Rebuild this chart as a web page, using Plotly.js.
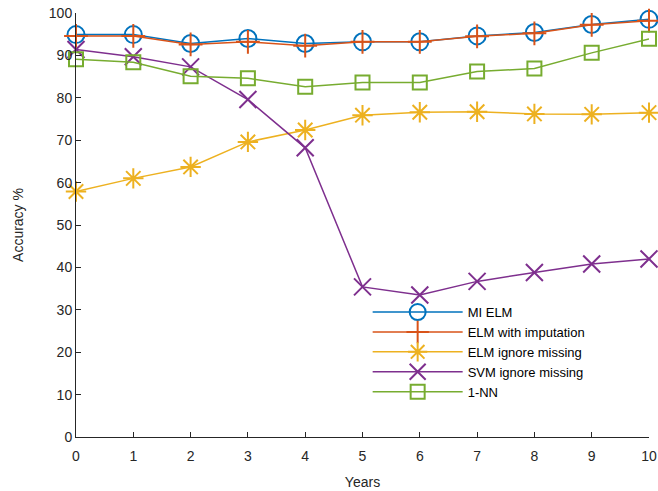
<!DOCTYPE html>
<html>
<head>
<meta charset="utf-8">
<script src="https://cdn.plot.ly/plotly-3.0.1.min.js"></script>
<style>html,body{margin:0;padding:0;background:#fff;}#chart{width:658px;height:491px;}</style>
</head>
<body>
<div id="chart"></div>
<script>
const years = [0,1,2,3,4,5,6,7,8,9,10];
const seriesNames = ["MI ELM","ELM with imputation","ELM ignore missing","SVM ignore missing","1-NN"];
const miElm = [94.9,94.9,92.8,94.0,92.8,93.2,93.2,94.6,95.4,97.3,98.5];
const elmImputation = [94.6,94.6,92.6,93.2,92.3,93.2,93.2,94.5,95.2,97.2,98.2];
const elmIgnore = [57.9,61.0,63.7,69.6,72.4,75.9,76.6,76.7,76.2,76.1,76.5];
const svmIgnore = [91.4,89.7,87.3,79.6,68.2,35.4,33.5,36.7,38.8,40.8,42.0];
const oneNN = [89.1,88.4,85.1,84.6,82.6,83.6,83.6,86.2,86.9,90.6,93.9];
const xTicks = [0,1,2,3,4,5,6,7,8,9,10];
const yTicks = [0,10,20,30,40,50,60,70,80,90,100];

const colors = ["#0072BD","#D95319","#EDB120","#7E2F8E","#77AC30"];
const symbols = ["circle-open","cross-thin-open","asterisk-open","x-thin-open","square-open"];
const sizes = [17,17,17,17,14];
const data = [miElm, elmImputation, elmIgnore, svmIgnore, oneNN];

const traces = data.map((ys,i)=>({
  x: years, y: ys, name: seriesNames[i], type: "scatter", mode: "lines+markers",
  line: {color: colors[i], width: 1.5},
  marker: {symbol: symbols[i], size: sizes[i], color: colors[i], line: {color: colors[i], width: 2}},
  cliponaxis: false
}));

const axisFont = {family: "Liberation Sans, Arial, sans-serif", size: 14, color: "#262626"};
const layout = {
  width: 658, height: 491,
  margin: {l: 76, r: 9, t: 13, b: 54},
  paper_bgcolor: "#fff", plot_bgcolor: "#fff",
  showlegend: true,
  font: {family: "Liberation Sans, Arial, sans-serif", color: "#262626"},
  xaxis: {
    range: [0,10], tickvals: xTicks, ticktext: xTicks.map(String),
    showgrid: false, zeroline: false, showline: true, linecolor: "#262626", linewidth: 1,
    ticks: "inside", ticklen: 5, tickcolor: "#262626", tickfont: axisFont,
    ticklabeloverflow: "allow", ticklabelstandoff: 6,
    title: {text: "Years", font: axisFont, standoff: 14}
  },
  yaxis: {
    range: [0,100], tickvals: yTicks, ticktext: yTicks.map(String),
    showgrid: false, zeroline: false, showline: true, linecolor: "#262626", linewidth: 1,
    ticks: "inside", ticklen: 5, tickcolor: "#262626", tickfont: axisFont,
    title: {text: "Accuracy %", font: axisFont, standoff: 21}
  },
  legend: {
    x: 0.509, y: 0.33, xanchor: "left", yanchor: "top",
    bgcolor: "rgba(255,255,255,0)", borderwidth: 0,
    font: {family: "Liberation Sans, Arial, sans-serif", size: 13, color: "#000"},
    itemwidth: 90, tracegroupgap: 0
  }
};
Plotly.newPlot("chart", traces, layout, {displayModeBar: false, staticPlot: true});
</script>
</body>
</html>
